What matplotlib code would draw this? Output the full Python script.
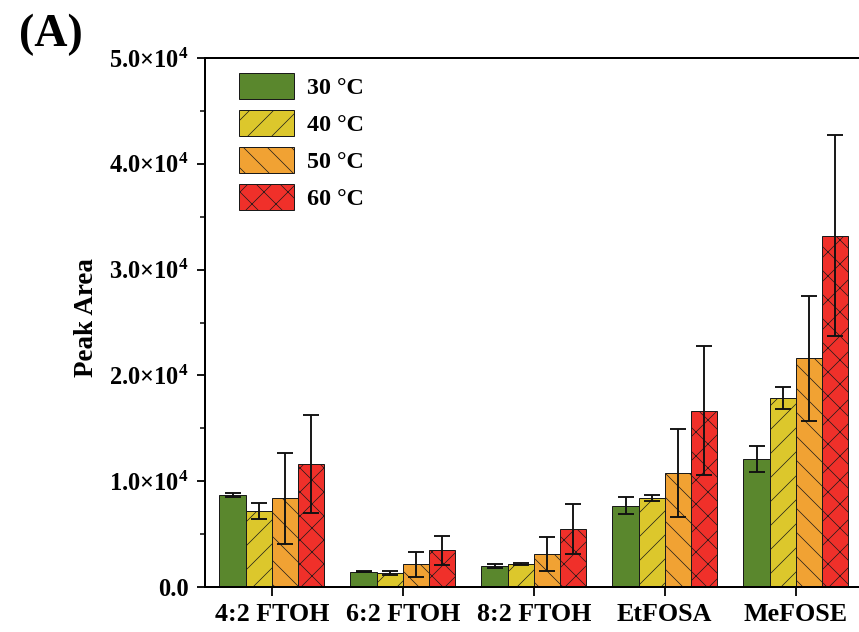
import numpy as np
import matplotlib
matplotlib.use('Agg')
import matplotlib.pyplot as plt

# ── data ──────────────────────────────────────────────────────────────────────
categories = ["4:2 FTOH", "6:2 FTOH", "8:2 FTOH", "EtFOSA", "MeFOSE"]
temperatures = ["30 °C", "40 °C", "50 °C", "60 °C"]

peak_30 = [8700, 1450, 2000, 7700, 12100]
peak_40 = [7200, 1350, 2150, 8400, 17900]
peak_50 = [8400, 2150, 3100, 10800, 21600]
peak_60 = [11600, 3450, 5450, 16650, 33200]

err_30 = [150, 50, 200, 800, 1200]
err_40 = [750, 200, 80, 300, 1050]
err_50 = [4300, 1200, 1600, 4150, 5900]
err_60 = [4650, 1400, 2350, 6100, 9500]

# ── style ─────────────────────────────────────────────────────────────────────
plt.rcParams['font.family'] = ['Liberation Serif', 'DejaVu Serif']
plt.rcParams['font.weight'] = 'bold'
plt.rcParams['mathtext.fontset'] = 'custom'
plt.rcParams['mathtext.rm'] = 'Liberation Serif:bold'
plt.rcParams['mathtext.bf'] = 'Liberation Serif:bold'
plt.rcParams['mathtext.default'] = 'bf'
plt.rcParams['hatch.linewidth'] = 0.7
plt.rcParams['hatch.color'] = '#222222'

colors = ["#5A872D", "#DCC72C", "#F1A233", "#F0302A"]
hatches = ["", "/", "\\", "x"]

DPI = 72
fig = plt.figure(figsize=(859 / DPI, 632 / DPI), dpi=DPI)
# the picture is cropped at the right: the frame ends at the right edge, no right spine
AX_W = 654
ax = fig.add_axes([205 / 859, 45 / 632, AX_W / 859, 529 / 632])

x = np.arange(len(categories))
width = 0.2
series = [(peak_30, err_30), (peak_40, err_40), (peak_50, err_50), (peak_60, err_60)]

for i, (vals, errs) in enumerate(series):
    pos = x + (i - 1.5) * width
    ax.bar(pos, vals, width, color=colors[i], edgecolor='#1a1a1a', linewidth=1.0,
           hatch=hatches[i], label=temperatures[i], zorder=2)
    ax.errorbar(pos, vals, yerr=errs, fmt='none', ecolor='#111111', elinewidth=1.9,
                capsize=8, capthick=1.9, zorder=3)

ax.set_xlim(-0.51, -0.51 + AX_W / 131)
ax.set_ylim(0, 50000)
ax.set_xticks(x)
ax.set_xticklabels(categories, fontsize=26, fontweight='bold')

yticks = [0, 10000, 20000, 30000, 40000, 50000]
ylabels = ["0.0"] + [f"{v / 10000:.1f}×10$^{{4}}$" for v in yticks[1:]]
ax.set_yticks(yticks)
ax.set_yticklabels(ylabels, fontsize=24.5, fontweight='bold')
ax.set_yticks(np.arange(5000, 50000, 10000), minor=True)

ax.tick_params(axis='y', which='major', direction='out', length=8, width=1.8, pad=8)
ax.tick_params(axis='x', which='major', direction='out', length=9, width=1.8, pad=7)
ax.tick_params(axis='y', which='minor', direction='out', length=5, width=1.5)
ax.tick_params(axis='x', which='minor', bottom=False)
for sp in ax.spines.values():
    sp.set_linewidth(2.0)
ax.spines['right'].set_visible(False)

ax.set_ylabel("Peak Area", fontsize=27, fontweight='bold')
ax.yaxis.set_label_coords(-0.162, 0.51)

ax.legend(loc='upper left', bbox_to_anchor=(0.037, 0.99), frameon=False,
          fontsize=24, handlelength=2.3, handleheight=1.3, labelspacing=0.45,
          handletextpad=0.55, borderaxespad=0.0)

fig.text(19 / 859, 1 - 46 / 632, "(A)", fontsize=46, fontweight='bold')

fig.savefig("out.png", dpi=DPI)
